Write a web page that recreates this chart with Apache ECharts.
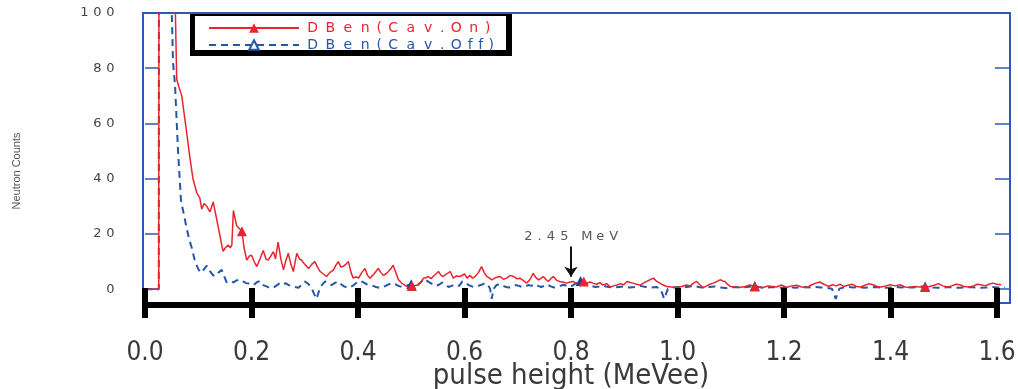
<!DOCTYPE html>
<html><head><meta charset="utf-8">
<script src="https://cdn.jsdelivr.net/npm/echarts@6/dist/echarts.min.js"></script>
<style>html,body{margin:0;padding:0;background:#fff}#c{width:1018px;height:389px}</style>
</head><body><div id="c"></div>
<script>
// ---------- data ----------
const seriesNames = ['DBen(Cav.On)', 'DBen(Cav.Off)'];
const yTickValues = [0, 20, 40, 60, 80, 100];
const xTickStep = 0.2;
const xTitle = 'pulse height (MeVee)';
const yTitle = 'Neutron Counts';
const annotationText = '2.45 MeV';
const annotationX = 0.8;
const annotationFrom = 15.5;
const annotationTo = 4.5;

const dataOn = [
[0.000,0],[0.010,0],[0.020,0],[0.0258,0],[0.0266,300],[0.045,400],[0.056,110],[0.0595,76],[0.064,73],[0.069,70],
[0.078,57],[0.084,48],[0.090,40],[0.097,35],[0.103,33],[0.1065,29],[0.111,31],[0.116,30],[0.122,28],[0.128,31.6],
[0.137,23],[0.142,18],[0.1465,13.7],[0.151,15],[0.156,16],[0.160,15],[0.163,16],[0.166,28.5],[0.172,23],[0.177,22],
[0.182,21],[0.186,15],[0.191,10.5],[0.196,12],[0.200,12.3],[0.205,10],[0.210,8.2],[0.216,11],[0.222,14],[0.227,11],
[0.2315,10.5],[0.236,12],[0.241,13.6],[0.245,11],[0.250,17],[0.255,11],[0.260,7],[0.264,10],[0.269,13],[0.274,9],
[0.2785,6.4],[0.282,10],[0.285,13],[0.290,11],[0.294,10.5],[0.300,9],[0.307,7.5],[0.313,9],[0.319,10],[0.324,8],
[0.329,6.4],[0.335,5.5],[0.341,4.6],[0.347,6],[0.354,7],[0.358,8.5],[0.363,10],[0.368,8],[0.372,8.2],[0.377,9],
[0.382,10],[0.387,6],[0.391,4],[0.396,4.5],[0.401,4],[0.407,6],[0.413,7.5],[0.418,5],[0.4225,4],[0.430,5.5],
[0.438,7.5],[0.443,6],[0.4475,5],[0.452,5.5],[0.457,6.4],[0.462,7.5],[0.466,8.7],[0.471,6],[0.476,3.4],[0.483,2],
[0.4915,1],[0.501,1.2],[0.507,1.3],[0.513,1.5],[0.518,2.5],[0.523,4],[0.528,4.2],[0.532,4.6],[0.537,3.8],[0.541,4.6],
[0.546,5.5],[0.551,6.4],[0.556,5],[0.560,4.6],[0.566,5.5],[0.573,6.4],[0.579,4],[0.585,4.8],[0.592,4.6],[0.600,5.5],
[0.605,4],[0.610,5],[0.615,4],[0.620,4.6],[0.626,6],[0.632,8.2],[0.637,6],[0.642,4.6],[0.647,4],[0.651,3.4],
[0.659,4.2],[0.667,4.6],[0.673,3.6],[0.679,4],[0.686,5],[0.692,4.6],[0.698,3.8],[0.704,4],[0.710,3.2],[0.717,2.2],
[0.723,3.5],[0.729,5.7],[0.734,4.2],[0.739,3.4],[0.744,4],[0.748,4.6],[0.753,3.5],[0.757,2.8],[0.762,3.8],[0.767,4.6],
[0.773,3.2],[0.779,2.8],[0.786,2.5],[0.792,2.2],[0.798,2.6],[0.804,2.8],[0.810,2.0],[0.817,2.2],[0.824,2.8],[0.830,2.2],
[0.836,2.6],[0.841,2.2],[0.848,1.8],[0.854,2.4],[0.860,1.5],[0.867,2.0],[0.874,0.8],[0.880,1.2],[0.886,1.5],[0.893,2.0],
[0.899,1.6],[0.905,2.8],[0.911,2.4],[0.916,2.2],[0.923,1.8],[0.930,1.5],[0.936,2.2],[0.942,2.8],[0.948,3.4],[0.955,4],
[0.961,2.8],[0.967,2.2],[0.973,1.5],[0.980,1.0],[0.988,0.8],[0.999,0.6],[1.008,1.0],[1.017,1.5],[1.024,1.2],[1.030,2.2],
[1.036,2.8],[1.042,1.6],[1.048,0.6],[1.055,1.2],[1.061,1.8],[1.067,2.2],[1.074,2.8],[1.080,3.4],[1.085,3.0],[1.089,2.8],
[1.094,1.8],[1.099,1.0],[1.108,0.8],[1.117,0.6],[1.127,1.0],[1.136,1.5],[1.145,1.0],[1.153,0.8],[1.161,0.6],[1.170,1.2],
[1.178,1.0],[1.186,0.8],[1.195,1.5],[1.205,0.6],[1.214,1.2],[1.224,1.4],[1.233,0.8],[1.243,0.6],[1.252,1.6],[1.260,2.2],
[1.267,2.6],[1.275,1.8],[1.283,1.0],[1.291,1.6],[1.298,1.2],[1.305,1.8],[1.312,1.0],[1.320,1.4],[1.328,1.8],[1.336,1.0],
[1.344,0.8],[1.352,1.4],[1.360,2.0],[1.367,1.6],[1.375,1.0],[1.383,0.8],[1.391,1.2],[1.399,1.6],[1.408,1.2],[1.418,1.6],
[1.427,0.8],[1.436,0.6],[1.446,1.0],[1.455,0.8],[1.465,0.8],[1.473,1.0],[1.482,1.4],[1.490,2.0],[1.498,1.2],[1.507,0.8],
[1.515,1.2],[1.523,1.8],[1.530,1.6],[1.538,1.0],[1.547,0.8],[1.556,1.2],[1.563,1.8],[1.570,1.6],[1.578,1.2],[1.585,1.8],
[1.592,2.2],[1.600,1.8],[1.608,1.6]
];

const dataOff = [
[0.000,0],[0.010,0],[0.020,0],[0.0258,0],[0.0266,300],[0.040,300],[0.049,110],[0.0526,82],[0.0563,74],[0.062,50],
[0.0676,32],[0.073,27],[0.0783,22],[0.083,18],[0.0877,15],[0.094,10],[0.0995,7.5],[0.104,6],[0.108,6.5],[0.112,7.5],
[0.116,8.5],[0.120,7],[0.124,6],[0.128,5],[0.1315,4.5],[0.135,5],[0.138,6],[0.144,7],[0.149,4.5],[0.1534,2.5],
[0.160,3],[0.166,2.5],[0.172,3.2],[0.178,3.5],[0.184,2.8],[0.190,2.2],[0.197,2],[0.204,1.5],[0.210,2.5],[0.216,3],
[0.222,1.5],[0.228,1],[0.234,0.5],[0.240,0.4],[0.246,1.2],[0.252,2],[0.258,1.5],[0.264,2.2],[0.270,1.5],[0.276,1],
[0.282,0.8],[0.288,0.5],[0.294,1.5],[0.300,2.8],[0.306,2],[0.312,0.8],[0.317,-1.5],[0.322,-3.5],[0.327,-0.5],[0.332,1.5],
[0.338,2.8],[0.344,2.2],[0.350,1.5],[0.356,2.2],[0.362,2.8],[0.368,1.8],[0.374,1],[0.380,0.5],[0.386,0.8],[0.392,1.5],
[0.398,2.5],[0.404,3],[0.410,2.5],[0.416,1.8],[0.422,1.5],[0.428,1.2],[0.434,0.8],[0.440,0.5],[0.446,0.8],[0.452,1.2],
[0.458,1.8],[0.464,2.2],[0.470,1.8],[0.476,1.2],[0.482,0.8],[0.488,1],[0.494,1.5],[0.500,1.8],[0.506,2],[0.512,1.5],
[0.518,2.5],[0.523,3.8],[0.528,3.2],[0.534,2.5],[0.540,1.8],[0.546,1.2],[0.552,1.6],[0.558,2.4],[0.564,1.8],[0.570,0.8],
[0.576,1.2],[0.582,1.8],[0.590,1.2],[0.596,2.8],[0.602,2.2],[0.608,1.5],[0.614,1],[0.620,0.8],[0.626,1.2],[0.632,1.6],
[0.638,2.2],[0.644,1.5],[0.648,0.2],[0.651,-3.5],[0.655,0.2],[0.660,1.5],[0.666,1.8],[0.672,1.2],[0.678,0.8],[0.684,0.6],
[0.690,1],[0.696,1.5],[0.702,1.2],[0.708,0.8],[0.714,1],[0.720,1.5],[0.726,1.2],[0.732,1.8],[0.738,1.2],[0.744,0.8],
[0.750,1.2],[0.756,1.6],[0.762,1],[0.768,0.6],[0.774,0.8],[0.780,1.2],[0.786,1.6],[0.792,1.2],[0.798,0.8],[0.804,1.5],
[0.810,2.2],[0.818,3],[0.824,2.5],[0.830,1.8],[0.838,1.2],[0.846,0.8],[0.854,1],[0.862,1.2],[0.870,0.8],[0.880,0.6],
[0.890,0.8],[0.900,1],[0.910,0.6],[0.920,0.8],[0.930,1.2],[0.940,0.8],[0.950,0.6],[0.960,0.8],[0.968,0.2],[0.975,-3.5],
[0.982,0.2],[0.990,0.6],[1.000,0.8],[1.010,0.6],[1.020,0.9],[1.030,1.2],[1.040,0.8],[1.050,0.5],[1.060,0.8],[1.070,1.0],
[1.080,0.6],[1.090,0.4],[1.100,0.6],[1.110,0.8],[1.120,0.6],[1.130,0.8],[1.138,1.0],[1.145,1.2],[1.152,0.8],[1.160,0.5],
[1.170,0.6],[1.180,0.8],[1.190,0.5],[1.200,0.6],[1.210,0.8],[1.220,0.5],[1.230,0.6],[1.240,0.8],[1.250,0.6],[1.260,0.8],
[1.270,0.6],[1.280,0.5],[1.290,0.2],[1.297,-3.5],[1.304,0.2],[1.312,0.6],[1.320,0.8],[1.330,0.6],[1.340,0.8],[1.350,0.5],
[1.360,0.6],[1.370,0.8],[1.380,0.6],[1.390,0.5],[1.400,0.6],[1.410,0.8],[1.420,0.6],[1.430,0.8],[1.440,0.6],[1.450,0.8],
[1.458,1.0],[1.465,1.0],[1.472,0.8],[1.480,0.6],[1.490,0.5],[1.500,0.6],[1.510,0.8],[1.520,0.6],[1.530,0.5],[1.540,0.6],
[1.550,0.8],[1.560,0.6],[1.570,0.5],[1.580,0.6],[1.590,0.8],[1.600,0.6],[1.615,0.6]
];

const markersOn = [0.182, 0.501, 0.824, 1.145, 1.465];
const markersOff = [0.500, 0.818, 1.145, 1.465];

// ---------- styling ----------
const RED = '#e8242e';
const BLUE = '#2457a8';
const FRAME = '#2a5cb4';
const NARROW_FONT = "'Liberation Sans Narrow','DejaVu Sans Condensed','Arial Narrow','Liberation Sans',sans-serif";
const NARROW_CH = '().f ';

function spread(text) {
  return String(text).split('').map(ch => (NARROW_CH.indexOf(ch) >= 0 ? '{n|' : '{w|') + ch + '}').join('');
}
function pointAt(data, x) {
  let best = data[0];
  for (const p of data) if (Math.abs(p[0] - x) < Math.abs(best[0] - x)) best = p;
  return best;
}
const legendRich = {
  w: { width: 17.5, align: 'center', fontSize: 14, fontFamily: 'DejaVu Sans' },
  n: { width: 10.5, align: 'center', fontSize: 14, fontFamily: 'DejaVu Sans' }
};

const chart = echarts.init(document.getElementById('c'), null, { renderer: 'canvas' });
chart.setOption({
  animation: false,
  backgroundColor: '#fff',
  grid: [
    { left: 143, right: 8, top: 13, bottom: 86, show: true, borderColor: FRAME, borderWidth: 2, backgroundColor: 'transparent', outerBoundsMode: 'none', containLabel: false },
    { left: 145, right: 21, top: 13, bottom: 84, outerBoundsMode: 'none', containLabel: false }
  ],
  xAxis: [
    { gridIndex: 0, type: 'value', min: -0.0038, max: 1.6244, show: false },
    {
      gridIndex: 1, type: 'value', min: 0, max: 1.6, interval: xTickStep, position: 'bottom', z: 10,
      axisLine: { show: true, lineStyle: { color: '#000', width: 6 } },
      axisTick: { show: true, inside: false, length: 13, lineStyle: { color: '#000', width: 6 } },
      splitLine: { show: false },
      axisLabel: { margin: 35, fontSize: 26, color: '#3a3a3a', fontFamily: NARROW_FONT, formatter: v => v.toFixed(1) },
      name: xTitle, nameLocation: 'middle', nameGap: 57, nameMoveOverlap: false,
      nameTextStyle: { fontSize: 29, color: '#3a3a3a', fontFamily: NARROW_FONT }
    },
    {
      gridIndex: 1, type: 'value', min: 0, max: 1.6, interval: xTickStep, position: 'bottom', z: 10,
      axisLine: { show: false },
      axisTick: { show: true, inside: true, length: 17, lineStyle: { color: '#000', width: 6 } },
      splitLine: { show: false },
      axisLabel: { show: false }
    }
  ],
  yAxis: [
    {
      gridIndex: 0, type: 'value', min: -5, max: 100, position: 'left',
      axisLine: { show: false }, splitLine: { show: false },
      axisTick: { show: true, inside: true, length: 13, customValues: yTickValues, lineStyle: { color: FRAME, width: 1.5 } },
      axisLabel: {
        customValues: yTickValues, margin: 26, color: '#444', fontSize: 13, fontFamily: 'DejaVu Sans',
        formatter: v => spread(v),
        rich: { w: { width: 13, align: 'center', fontSize: 13, fontFamily: 'DejaVu Sans' }, n: { width: 7, align: 'center' } }
      },
      name: yTitle, nameLocation: 'middle', nameRotate: 90, nameGap: 121, nameMoveOverlap: false,
      nameTextStyle: { fontSize: 11, color: '#555', fontFamily: 'Liberation Sans', padding: [0, 26, 0, 0] }
    },
    {
      gridIndex: 0, type: 'value', min: -5, max: 100, position: 'right',
      axisLine: { show: false }, splitLine: { show: false },
      axisTick: { show: true, inside: true, length: 15, customValues: yTickValues, lineStyle: { color: FRAME, width: 1.5 } },
      axisLabel: { show: false }
    },
    { gridIndex: 1, type: 'value', min: 0, max: 1, show: false }
  ],
  legend: {
    orient: 'vertical', left: 208, top: 21, itemWidth: 90, itemHeight: 12, itemGap: 3, padding: 0, z: 20,
    selectedMode: false,
    formatter: name => spread(name),
    textStyle: { fontSize: 14, fontFamily: 'DejaVu Sans', rich: legendRich },
    data: [
      { name: seriesNames[0], textStyle: { color: RED, rich: legendRich } },
      { name: seriesNames[1], textStyle: { color: BLUE, rich: legendRich } }
    ]
  },
  graphic: [
    { type: 'rect', z: 15, silent: true, shape: { x: 190, y: 14, width: 322, height: 42 }, style: { fill: '#000' } },
    { type: 'rect', z: 16, silent: true, shape: { x: 195, y: 16, width: 311, height: 34 }, style: { fill: '#fff' } }
  ],
  series: [
    {
      name: seriesNames[1], type: 'line', xAxisIndex: 0, yAxisIndex: 0, z: 2,
      data: dataOff, symbol: 'emptyTriangle', showSymbol: false, clip: true,
      itemStyle: { color: BLUE },
      lineStyle: { color: BLUE, width: 2, type: [7, 5] },
      markPoint: {
        silent: true, symbol: 'triangle', symbolSize: 10, label: { show: false },
        itemStyle: { color: '#1d3f8f' },
        data: markersOff.map(x => ({ coord: pointAt(dataOff, x) }))
      }
    },
    {
      name: seriesNames[0], type: 'line', xAxisIndex: 0, yAxisIndex: 0, z: 3,
      data: dataOn, symbol: 'triangle', showSymbol: false, clip: true,
      itemStyle: { color: RED },
      lineStyle: { color: RED, width: 1.5 },
      markPoint: {
        silent: true, symbol: 'triangle', symbolSize: 10, label: { show: false },
        itemStyle: { color: RED },
        data: markersOn.map(x => ({ coord: pointAt(dataOn, x) }))
      },
      markLine: {
        silent: true, symbol: ['none', 'arrow'], symbolSize: 10, precision: 2,
        lineStyle: { color: '#111', width: 2, type: 'solid' },
        label: {
          show: true, position: 'start', distance: 3, color: '#555', fontSize: 13, fontFamily: 'DejaVu Sans',
          formatter: () => spread(annotationText),
          rich: {
            w: { width: 13.5, align: 'center', fontSize: 13, fontFamily: 'DejaVu Sans', color: '#555' },
            n: { width: 9, align: 'center', fontSize: 13, fontFamily: 'DejaVu Sans', color: '#555' }
          }
        },
        data: [[{ coord: [annotationX, annotationFrom] }, { coord: [annotationX, annotationTo] }]]
      }
    }
  ]
});
</script>
</body></html>
